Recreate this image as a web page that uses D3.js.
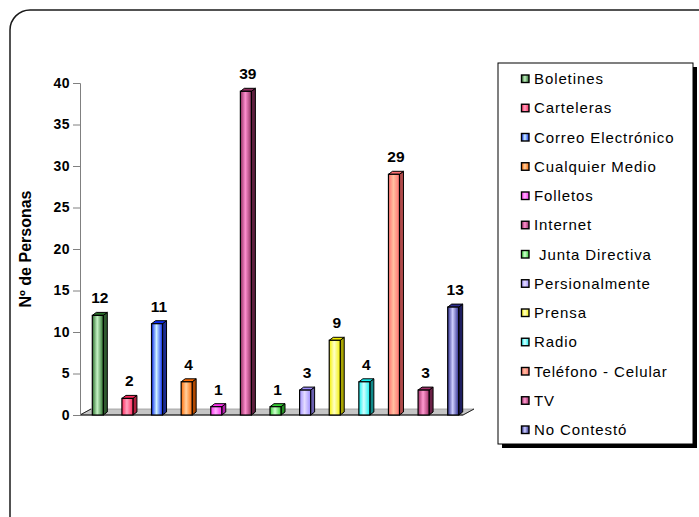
<!DOCTYPE html>
<html>
<head>
<meta charset="utf-8">
<script src="https://cdn.jsdelivr.net/npm/d3@7"></script>
<style>
  html, body { margin: 0; padding: 0; background: #fff; }
  svg { display: block; font-family: "Liberation Sans", Arial, sans-serif; }
</style>
</head>
<body>
<svg id="chart" width="699" height="517"></svg>
<script>
// Medios de comunicación preferidos
const categories = [
  "Boletines", "Carteleras", "Correo Electrónico", "Cualquier Medio", "Folletos",
  "Internet", " Junta Directiva", "Persionalmente", "Prensa", "Radio",
  "Teléfono - Celular", "TV", "No Contestó"
];
const values = [12, 2, 11, 4, 1, 39, 1, 3, 9, 4, 29, 3, 13];
const yTicks = [0, 5, 10, 15, 20, 25, 30, 35, 40];
const yTitle = "Nº de Personas";

// [edge, centre, side] shades per series
const palette = [
  ["#2a6e2a", "#c4f2c4", "#2f5a2f"],
  ["#ff2a5c", "#ffa3c0", "#b0203f"],
  ["#0a2cf0", "#cdf2ff", "#1a2a90"],
  ["#ff6a00", "#ffd0a0", "#b04800"],
  ["#ff30f0", "#ffb0ff", "#b020a8"],
  ["#8e2f5e", "#ff8fcf", "#5e1f3e"],
  ["#33d033", "#d0ffd0", "#229022"],
  ["#a090ff", "#e4dcff", "#6a60b0"],
  ["#f4f000", "#ffffc8", "#a8a400"],
  ["#10f0f0", "#d4ffff", "#108a8a"],
  ["#ff7070", "#ffc0a0", "#b04a4a"],
  ["#a03068", "#ff9ad0", "#6a2046"],
  ["#2e2e90", "#cfd0ff", "#1e1e60"]
];

const svg = d3.select("#chart");
const defs = svg.append("defs");

palette.forEach((c, i) => {
  const g = defs.append("linearGradient")
    .attr("id", "grad" + i).attr("x1", "0%").attr("x2", "100%").attr("y1", "0%").attr("y2", "0%");
  g.append("stop").attr("offset", "0%").attr("stop-color", c[0]);
  g.append("stop").attr("offset", "45%").attr("stop-color", c[1]);
  g.append("stop").attr("offset", "100%").attr("stop-color", c[0]);
});

// Outer rounded frame
svg.append("rect")
  .attr("x", 10).attr("y", 10).attr("width", 740).attr("height", 560)
  .attr("rx", 20).attr("ry", 20)
  .attr("fill", "none").attr("stroke", "#1a1a1a").attr("stroke-width", 1.5);

const y = d3.scaleLinear().domain([0, 40]).range([415, 83]);
const x = d3.scaleBand().domain(categories).range([83, 468]);

const axisX = 80;
const depthX = 4, depthY = 3;
const barW = 11;

// Floor
const floorDX = 11, floorDY = 6;
const floorLeft = axisX, floorRight = 463;
svg.append("path")
  .attr("d", `M${floorLeft},${y(0)} L${floorRight},${y(0)} L${floorRight + floorDX},${y(0) - floorDY} L${floorLeft + floorDX},${y(0) - floorDY} Z`)
  .attr("fill", "#c6c6c6").attr("stroke", "#9a9a9a").attr("stroke-width", 0.8);
svg.append("line")
  .attr("x1", floorLeft).attr("x2", floorRight)
  .attr("y1", y(0)).attr("y2", y(0))
  .attr("stroke", "#000").attr("stroke-width", 1);
svg.append("line")
  .attr("x1", floorRight).attr("y1", y(0))
  .attr("x2", floorRight + floorDX).attr("y2", y(0) - floorDY)
  .attr("stroke", "#000").attr("stroke-width", 0.8);
svg.append("line")
  .attr("x1", floorLeft).attr("y1", y(0))
  .attr("x2", floorLeft + floorDX).attr("y2", y(0) - floorDY)
  .attr("stroke", "#000").attr("stroke-width", 0.8);

// Y axis
const yAxis = d3.axisLeft(y).tickValues(yTicks).tickSize(7).tickPadding(3);
const gy = svg.append("g").attr("transform", `translate(${axisX},0)`).call(yAxis)
  .attr("font-family", "'Liberation Sans', Arial, sans-serif").attr("font-size", 14);
gy.select(".domain").attr("stroke", "#808080");
gy.selectAll(".tick line").attr("stroke", "#808080");
gy.selectAll(".tick text")
  .attr("font-size", 14).attr("font-weight", "bold").attr("letter-spacing", 0.5).attr("fill", "#000");

svg.append("text")
  .attr("transform", `translate(31,249) rotate(-90)`)
  .attr("text-anchor", "middle")
  .attr("font-size", 16).attr("font-weight", "bold")
  .text(yTitle);

// Bars
const bars = svg.append("g");
categories.forEach((cat, i) => {
  const v = values[i];
  const cx = x(cat) + x.bandwidth() / 2;
  const x0 = cx - barW / 2;
  const top = y(v), bottom = y(0);
  const g = bars.append("g");
  // side face
  g.append("path")
    .attr("d", `M${x0 + barW},${top} L${x0 + barW + depthX},${top - depthY} L${x0 + barW + depthX},${bottom - depthY} L${x0 + barW},${bottom} Z`)
    .attr("fill", palette[i][2]).attr("stroke", "#000").attr("stroke-width", 1);
  // top face
  g.append("path")
    .attr("d", `M${x0},${top} L${x0 + depthX},${top - depthY} L${x0 + barW + depthX},${top - depthY} L${x0 + barW},${top} Z`)
    .attr("fill", palette[i][0]).attr("stroke", "#000").attr("stroke-width", 1);
  // front face
  g.append("rect")
    .attr("x", x0).attr("y", top).attr("width", barW).attr("height", bottom - top)
    .attr("fill", `url(#grad${i})`).attr("stroke", "#000").attr("stroke-width", 1.2);
  // value label
  g.append("text")
    .attr("x", cx + 2).attr("y", top - 12)
    .attr("text-anchor", "middle")
    .attr("font-size", 15.5).attr("font-weight", "bold")
    .text(v);
});

// Legend
const lg = svg.append("g");
lg.append("rect").attr("x", 502).attr("y", 67).attr("width", 195).attr("height", 381).attr("fill", "#000");
lg.append("rect").attr("x", 498).attr("y", 63).attr("width", 195).attr("height", 381)
  .attr("fill", "#fff").attr("stroke", "#000").attr("stroke-width", 1);

const ly = d3.scalePoint().domain(categories).range([78.5, 429.5]);
categories.forEach((cat, i) => {
  const cy = ly(cat);
  lg.append("rect")
    .attr("x", 521.5).attr("y", cy - 3.5).attr("width", 7.5).attr("height", 7.5)
    .attr("fill", `url(#grad${i})`).attr("stroke", "#000").attr("stroke-width", 1.4);
  lg.append("text")
    .attr("x", 534).attr("y", cy + 5.5)
    .attr("font-size", 15).attr("letter-spacing", 0.9)
    .attr("xml:space", "preserve")
    .style("white-space", "pre")
    .text(cat);
});
</script>
</body>
</html>
